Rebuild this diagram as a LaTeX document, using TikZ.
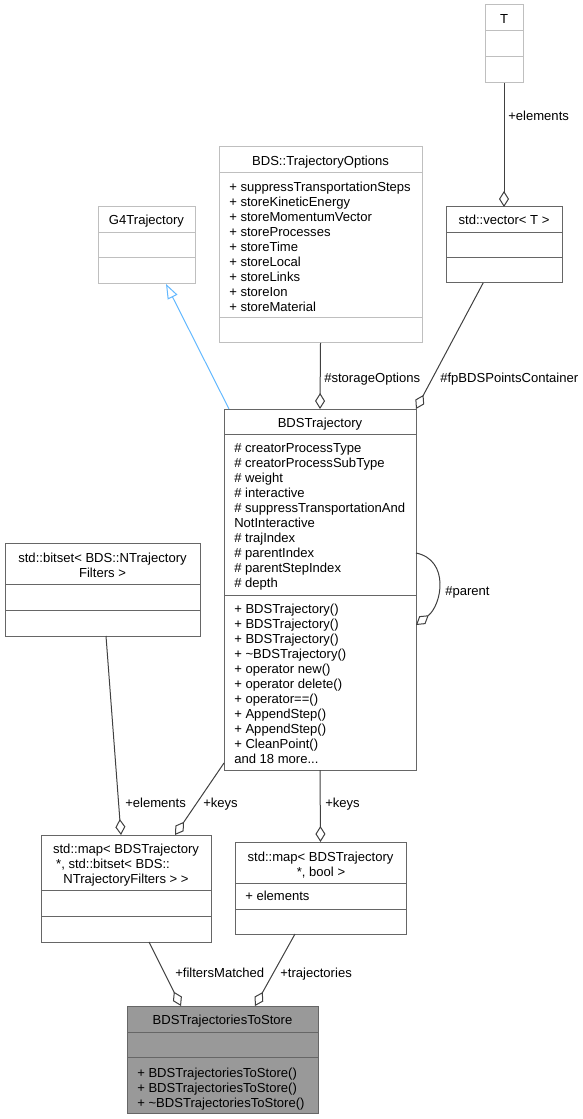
\documentclass[tikz,border=0pt]{standalone}
\usepackage{fontspec}
\setmainfont{Liberation Sans}
\usetikzlibrary{arrows.meta,fit,calc}

\definecolor{edgegray}{HTML}{404040}
\definecolor{boxdark}{HTML}{666666}
\definecolor{boxlight}{HTML}{BFBFBF}
\definecolor{storefill}{HTML}{999999}
\definecolor{inheritblue}{HTML}{63B8FF}

\begin{document}
\begin{tikzpicture}[x=0.75pt,y=-0.75pt,
  font=\fontsize{9.8}{11.25}\selectfont,
  lightcls/.style={draw=boxlight, line width=0.75pt, inner sep=0pt, outer sep=0pt},
  darkcls/.style={draw=boxdark, line width=0.75pt, inner sep=0pt, outer sep=0pt},
  title/.style={inner sep=0pt, anchor=base},
  member/.style={inner sep=0pt, anchor=base west},
  lbl/.style={inner sep=0pt, anchor=base west},
  assoc/.style={draw=edgegray, line width=0.75pt, -{Diamond[fill=white,length=12pt,width=7.5pt]}}]
\useasboundingbox (0,0) rectangle (582,1119);

% class boxes
\node[lightcls, fit={(485,5) (523,83)}] (T) {};
\draw[boxlight, line width=0.75pt] (485,31) -- (523,31) (485,57) -- (523,57);
\node[title] (Ttitle) at (504,24) {T};

\node[darkcls, fit={(446,207) (562,283)}] (vec) {};
\draw[boxdark, line width=0.75pt] (446,233) -- (562,233) (446,258) -- (562,258);
\node[title] (vectitle) at (504,225) {std::vector< T >};

\node[lightcls, fit={(98,207) (195,284)}] (g4) {};
\draw[boxlight, line width=0.75pt] (98,233) -- (195,233) (98,258) -- (195,258);
\node[title] (g4title) at (146.5,225) {G4Trajectory};

\node[lightcls, fit={(219,147) (422,343)}] (opts) {};
\draw[boxlight, line width=0.75pt] (219,173) -- (422,173) (219,318) -- (422,318);
\node[title] (optstitle) at (320.5,165.5) {BDS::TrajectoryOptions};
\foreach \m [count=\i from 0] in {suppressTransportationSteps, storeKineticEnergy,
  storeMomentumVector, storeProcesses, storeTime, storeLocal, storeLinks, storeIon, storeMaterial}
  \node[member] (opts\i) at (229,191.5+15*\i) {+ \m};

\node[darkcls, fit={(224,409) (416,770)}] (traj) {};
\draw[boxdark, line width=0.75pt] (224,434) -- (416,434) (224,595) -- (416,595);
\node[title] (trajtitle) at (320,427) {BDSTrajectory};
\foreach \m [count=\i from 0] in {\# creatorProcessType, \# creatorProcessSubType, \# weight,
  \# interactive, \# suppressTransportationAnd, NotInteractive, \# trajIndex, \# parentIndex,
  \# parentStepIndex, \# depth}
  \node[member] (trajattr\i) at (234,452.5+15*\i) {\m};
\foreach \m [count=\i from 0] in {+ BDSTrajectory(), + BDSTrajectory(), + BDSTrajectory(),
  + \textasciitilde BDSTrajectory(), + operator new(), + operator delete(), + operator==(),
  + AppendStep(), + AppendStep(), + CleanPoint(), and 18 more.{}.{}.}
  \node[member] (trajop\i) at (234,613.5+15*\i) {\m};

\node[darkcls, fit={(5,543) (200,636)}] (bitset) {};
\draw[boxdark, line width=0.75pt] (5,584) -- (200,584) (5,610) -- (200,610);
\node[title] (bitsettitle) at (102.5,562.5) {std::bitset< BDS::NTrajectory};
\node[title] (bitsettitleb) at (102.5,577.5) {Filters >};

\node[darkcls, fit={(41,835) (211,942)}] (mapfilt) {};
\draw[boxdark, line width=0.75pt] (41,890) -- (211,890) (41,916) -- (211,916);
\node[title] (mapfilttitle) at (126,853.5) {std::map< BDSTrajectory};
\node[title] (mapfilttitleb) at (113,868.5) {*, std::bitset< BDS::};
\node[title] (mapfilttitlec) at (126,883.5) {NTrajectoryFilters > >};

\node[darkcls, fit={(235,842) (406,934)}] (mapbool) {};
\draw[boxdark, line width=0.75pt] (235,883) -- (406,883) (235,909) -- (406,909);
\node[title] (mapbooltitle) at (320.5,861.5) {std::map< BDSTrajectory};
\node[title] (mapbooltitleb) at (321,876.5) {*, bool >};
\node[member] (mapboolelem) at (245,900.5) {+ elements};

\node[darkcls, fill=storefill, fit={(127,1006) (318,1113)}] (store) {};
\draw[boxdark, line width=0.75pt] (127,1032) -- (318,1032) (127,1057) -- (318,1057);
\node[title] (storetitle) at (222.5,1024.5) {BDSTrajectoriesToStore};
\foreach \m [count=\i from 0] in {BDSTrajectoriesToStore(), BDSTrajectoriesToStore(),
  \textasciitilde BDSTrajectoriesToStore()}
  \node[member] (storeop\i) at (137,1077.5+15*\i) {+ \m};

% connectors
\draw[assoc] (T.south) -- (vec.north);
\draw[assoc] ($(vec.south west)!0.32!(vec.south east)$) -- (traj.north east);
\draw[assoc] (opts.south) -- (traj.north);
\draw[inheritblue, line width=0.75pt, -{Triangle[fill=white,length=11pt,width=8pt]}]
  ($(traj.north west)+(5,0)$) -- ($(g4.south west)+(68,0)$);
\draw[assoc] ($(traj.north east)+(0,144)$) .. controls +(34,7) and +(26,-20) .. ($(traj.north east)+(0,216)$);
\draw[assoc] ($(bitset.south west)+(101,0)$) -- ($(mapfilt.north west)+(80,0)$);
\draw[assoc] ($(traj.south west)+(0,-7)$) -- ($(mapfilt.north west)+(134,0)$);
\draw[assoc] (traj.south) -- (mapbool.north);
\draw[assoc] ($(mapfilt.south west)+(108,0)$) -- ($(store.north west)+(54,0)$);
\draw[assoc] ($(mapbool.south west)+(60,0)$) -- ($(store.north west)+(128,0)$);

% connector labels
\node[lbl] (elemT) at (508,120.5) {+elements};
\node[lbl] (storageopt) at (324,382.5) {\#storageOptions};
\node[lbl] (fppoints) at (440,382.5) {\#fpBDSPointsContainer};
\node[lbl] (parent) at (445,595.5) {\#parent};
\node[lbl] (elembits) at (125,807.5) {+elements};
\node[lbl] (keysfilt) at (203,807.5) {+keys};
\node[lbl] (keysbool) at (325,807.5) {+keys};
\node[lbl] (filters) at (175,977.5) {+filtersMatched};
\node[lbl] (trajs) at (280,977.5) {+trajectories};
\end{tikzpicture}
\end{document}
